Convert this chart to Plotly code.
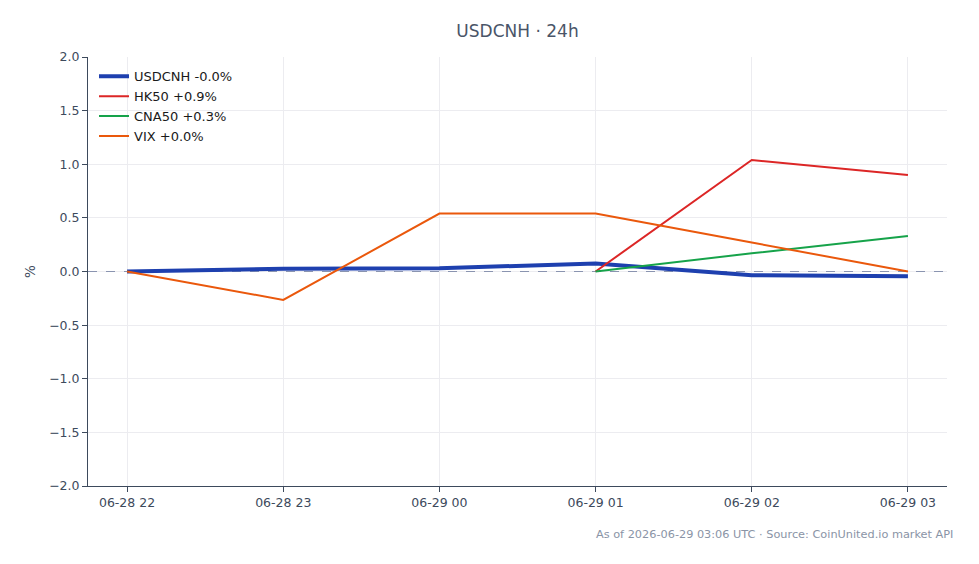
import plotly.graph_objects as go

times = ["2026-06-28 22:00", "2026-06-28 23:00", "2026-06-29 00:00",
         "2026-06-29 01:00", "2026-06-29 02:00", "2026-06-29 03:00"]
usdcnh = [0.0, 0.025, 0.03, 0.075, -0.035, -0.045]
hk50_t = ["2026-06-29 01:00", "2026-06-29 02:00", "2026-06-29 03:00"]
hk50 = [0.0, 1.04, 0.90]
cna50_t = ["2026-06-29 01:00", "2026-06-29 02:00", "2026-06-29 03:00"]
cna50 = [0.0, 0.17, 0.33]
vix = [0.0, -0.265, 0.54, 0.54, 0.27, 0.0]
x_range = ["2026-06-28 21:45", "2026-06-29 03:15"]
baseline = 0.0

font = "DejaVu Sans, sans-serif"
fig = go.Figure()
# zero reference line (under the series, above the grid)
fig.add_trace(go.Scatter(x=x_range, y=[baseline, baseline], mode="lines",
                         line=dict(color="#8a94b0", width=1, dash="dash"),
                         showlegend=False, hoverinfo="skip"))
fig.add_trace(go.Scatter(x=times, y=usdcnh, mode="lines", name="USDCNH -0.0%",
                         line=dict(color="#1e40af", width=4)))
fig.add_trace(go.Scatter(x=hk50_t, y=hk50, mode="lines", name="HK50 +0.9%",
                         line=dict(color="#dc2626", width=2)))
fig.add_trace(go.Scatter(x=cna50_t, y=cna50, mode="lines", name="CNA50 +0.3%",
                         line=dict(color="#16a34a", width=2)))
fig.add_trace(go.Scatter(x=times, y=vix, mode="lines", name="VIX +0.0%",
                         line=dict(color="#ea580c", width=2)))

fig.update_layout(
    width=979, height=564,
    margin=dict(l=88, r=32, t=57, b=78),
    paper_bgcolor="white", plot_bgcolor="white",
    font=dict(family=font, size=12, color="#3d4a5c"),
    title=dict(text="USDCNH · 24h", x=0.5, xref="paper", y=0.945, yanchor="middle",
               font=dict(size=17, color="#4a5568", family=font)),
    showlegend=True,
    legend=dict(x=0.007, y=0.99, xanchor="left", yanchor="top",
                bgcolor="rgba(255,255,255,0)", borderwidth=0,
                font=dict(size=13, color="#1a1a1a", family=font),
                tracegroupgap=0, itemwidth=30),
    xaxis=dict(type="date", range=x_range,
               tickformat="%m-%d %H",
               tickvals=times,
               showgrid=True, gridcolor="#ececf0", gridwidth=1,
               showline=True, linecolor="#3d4a5c", linewidth=1,
               ticks="outside", ticklen=5, tickcolor="#3d4a5c",
               tickfont=dict(size=12.5, color="#3d4a5c"), zeroline=False),
    yaxis=dict(range=[-2, 2], dtick=0.5, tickformat=".1f",
               showgrid=True, gridcolor="#ececf0", gridwidth=1,
               showline=True, linecolor="#3d4a5c", linewidth=1,
               ticks="outside", ticklen=5, tickcolor="#3d4a5c",
               tickfont=dict(size=12.5, color="#3d4a5c"), zeroline=False,
               title=dict(text="%", font=dict(size=13.5, color="#3d4a5c"), standoff=10)),
    annotations=[dict(text="As of 2026-06-29 03:06 UTC · Source: CoinUnited.io market API",
                      xref="paper", yref="paper", x=1.009, y=-0.112,
                      xanchor="right", yanchor="middle", showarrow=False,
                      font=dict(size=11.3, color="#8a94a6", family=font))],
)

fig.write_html("out.html")
